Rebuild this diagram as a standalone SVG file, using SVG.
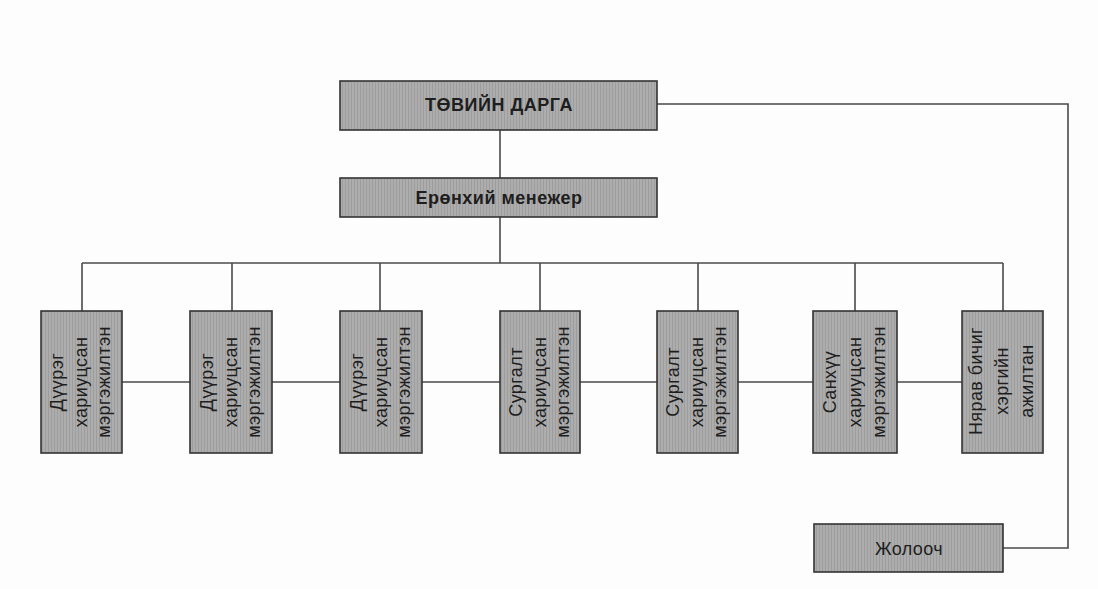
<svg xmlns="http://www.w3.org/2000/svg" width="1098" height="589" viewBox="0 0 1098 589">
  <defs>
    <pattern id="hatch" patternUnits="userSpaceOnUse" width="3" height="10">
      <rect width="3" height="10" fill="#adadad"/>
      <rect width="1" height="10" fill="#9d9d9d"/>
    </pattern>
    <style>
      .box { fill: url(#hatch); stroke: #333333; stroke-width: 1.6; }
      .con { fill: none; stroke: #4a4a4a; stroke-width: 1.6; }
      .t { font-family: "Liberation Sans", Arial, sans-serif; fill: #1e1e1e; text-anchor: middle; dominant-baseline: central; }
      .tb { font-size: 18px; font-weight: bold; letter-spacing: 0.5px; }
      .tv { font-size: 18px; letter-spacing: 0.4px; }
    </style>
  </defs>
  <rect width="1098" height="589" fill="#fdfdfd"/>

  <g id="connectors">
    <path class="con" d="M500 130 V178"/>
    <path class="con" d="M500 217 V263"/>
    <path class="con" d="M82 263 H1003"/>
    <path class="con" d="M82 263 V311 M232 263 V311 M380 263 V311 M540 263 V311 M698 263 V311 M855 263 V311 M1003 263 V311"/>
    <path class="con" d="M122 382 H190 M272 382 H340 M422 382 H500 M580 382 H657 M738 382 H813 M897 382 H962"/>
    <path class="con" d="M657 104 H1068 V548 H1003"/>
  </g>

  <g id="tovin-darga">
    <rect class="box" x="340" y="81" width="317" height="49"/>
    <text class="t tb" x="499" y="105">ТӨВИЙН ДАРГА</text>
  </g>

  <g id="ernkhii-menejer">
    <rect class="box" x="340" y="178" width="317" height="39"/>
    <text class="t tb" x="499" y="198">Ерөнхий менежер</text>
  </g>

  <g id="duureg-1">
    <rect class="box" x="41" y="311" width="81" height="142"/>
    <g transform="translate(81,382) rotate(-90)">
      <text class="t tv" x="0" y="-24">Дүүрэг</text>
      <text class="t tv" x="0" y="0">хариуцсан</text>
      <text class="t tv" x="0" y="23">мэргэжилтэн</text>
    </g>
  </g>

  <g id="duureg-2">
    <rect class="box" x="190" y="311" width="82" height="142"/>
    <g transform="translate(231,382) rotate(-90)">
      <text class="t tv" x="0" y="-24">Дүүрэг</text>
      <text class="t tv" x="0" y="0">хариуцсан</text>
      <text class="t tv" x="0" y="23">мэргэжилтэн</text>
    </g>
  </g>

  <g id="duureg-3">
    <rect class="box" x="340" y="311" width="82" height="142"/>
    <g transform="translate(381,382) rotate(-90)">
      <text class="t tv" x="0" y="-24">Дүүрэг</text>
      <text class="t tv" x="0" y="0">хариуцсан</text>
      <text class="t tv" x="0" y="23">мэргэжилтэн</text>
    </g>
  </g>

  <g id="surgalt-1">
    <rect class="box" x="500" y="311" width="80" height="142"/>
    <g transform="translate(540,382) rotate(-90)">
      <text class="t tv" x="0" y="-24">Сургалт</text>
      <text class="t tv" x="0" y="0">хариуцсан</text>
      <text class="t tv" x="0" y="23">мэргэжилтэн</text>
    </g>
  </g>

  <g id="surgalt-2">
    <rect class="box" x="657" y="311" width="81" height="142"/>
    <g transform="translate(697,382) rotate(-90)">
      <text class="t tv" x="0" y="-24">Сургалт</text>
      <text class="t tv" x="0" y="0">хариуцсан</text>
      <text class="t tv" x="0" y="23">мэргэжилтэн</text>
    </g>
  </g>

  <g id="sankhuu">
    <rect class="box" x="813" y="311" width="84" height="142"/>
    <g transform="translate(855,382) rotate(-90)">
      <text class="t tv" x="0" y="-25">Санхүү</text>
      <text class="t tv" x="0" y="0">хариуцсан</text>
      <text class="t tv" x="0" y="24">мэргэжилтэн</text>
    </g>
  </g>

  <g id="nyarav">
    <rect class="box" x="962" y="311" width="81" height="142"/>
    <g transform="translate(1002,381) rotate(-90)">
      <text class="t tv" x="0" y="-26">Нярав бичиг</text>
      <text class="t tv" x="0" y="0">хэргийн</text>
      <text class="t tv" x="0" y="25">ажилтан</text>
    </g>
  </g>

  <g id="jolooch">
    <rect class="box" x="814" y="524" width="189" height="48"/>
    <text class="t tv" x="909" y="549">Жолооч</text>
  </g>
</svg>
